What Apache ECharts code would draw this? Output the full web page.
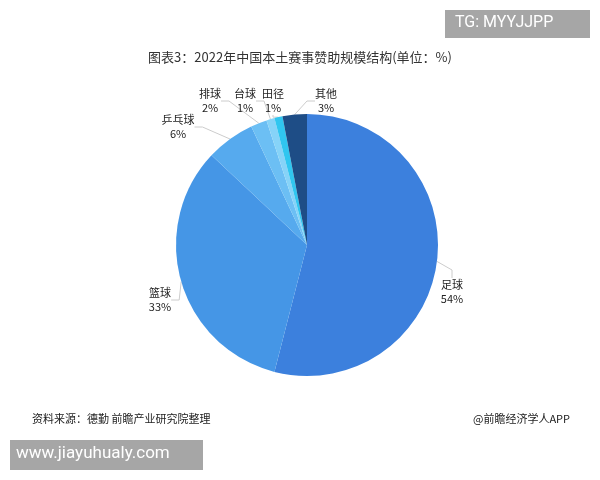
<!DOCTYPE html>
<html>
<head>
<meta charset="utf-8">
<script src="https://cdn.jsdelivr.net/npm/echarts@6/dist/echarts.min.js"></script>
<style>
  body { margin: 0; background: #fff; }
  #main { width: 600px; height: 480px; }
</style>
</head>
<body>
<div id="main"></div>
<script>
var names = ['足球', '篮球', '乒乓球', '排球', '台球', '田径', '其他'];
var values = [54, 33, 6, 2, 1, 1, 3];
var colors = ['#3c80dd', '#4596e6', '#56aaee', '#6cbff4', '#86d3f8', '#30c6f0', '#1e4d86'];
// label anchor spots (layout only)
var labelSpots = [[452, 292], [160, 300], [178, 127], [210, 101], [245, 101], [273, 101], [326, 101]];

var chart = echarts.init(document.getElementById('main'));
var font = '"Noto Sans CJK SC", sans-serif';

var pieData = [];
for (var i = 0; i < names.length; i++) {
    pieData.push({ name: names[i], value: values[i], itemStyle: { color: colors[i] } });
}

chart.setOption({
    animation: false,
    title: {
        text: '图表3：2022年中国本土赛事赞助规模结构(单位：%)',
        left: 'center',
        top: 46,
        textStyle: { fontSize: 13, fontWeight: 'normal', color: '#333', fontFamily: font }
    },
    graphic: [
        { type: 'rect', shape: { x: 445, y: 10, width: 145, height: 28 }, style: { fill: '#a6a6a6' } },
        { type: 'text', left: 455, top: 15, style: { text: 'TG: MYYJJPP', fill: '#fff', fontSize: 16, fontFamily: 'Roboto, sans-serif' } },
        { type: 'text', left: 32, top: 413, style: { text: '资料来源：德勤 前瞻产业研究院整理', fill: '#222', fontSize: 11, fontFamily: font } },
        { type: 'text', right: 30, top: 413, style: { text: '@前瞻经济学人APP', fill: '#222', fontSize: 11, fontFamily: font } },
        { type: 'rect', shape: { x: 10, y: 440, width: 193, height: 30 }, style: { fill: '#a6a6a6' } },
        { type: 'text', left: 16, top: 445, style: { text: 'www.jiayuhualy.com', fill: '#fff', fontSize: 17, fontFamily: 'Roboto, sans-serif' } }
    ],
    series: [{
        type: 'pie',
        center: [307, 245],
        radius: [0, 131],
        startAngle: 90,
        clockwise: true,
        data: pieData,
        label: {
            formatter: '{b}\n{d}%',
            fontSize: 11,
            color: '#222',
            lineHeight: 14,
            fontFamily: font,
            align: 'center'
        },
        labelLine: { length: 8, length2: 8, lineStyle: { color: '#ccc' } },
        labelLayout: function (p) {
            var s = labelSpots[p.dataIndex];
            return { x: s[0], y: s[1], align: 'center', verticalAlign: 'middle' };
        },
        itemStyle: { borderColor: '#fff', borderWidth: 0 }
    }]
});
</script>
</body>
</html>
